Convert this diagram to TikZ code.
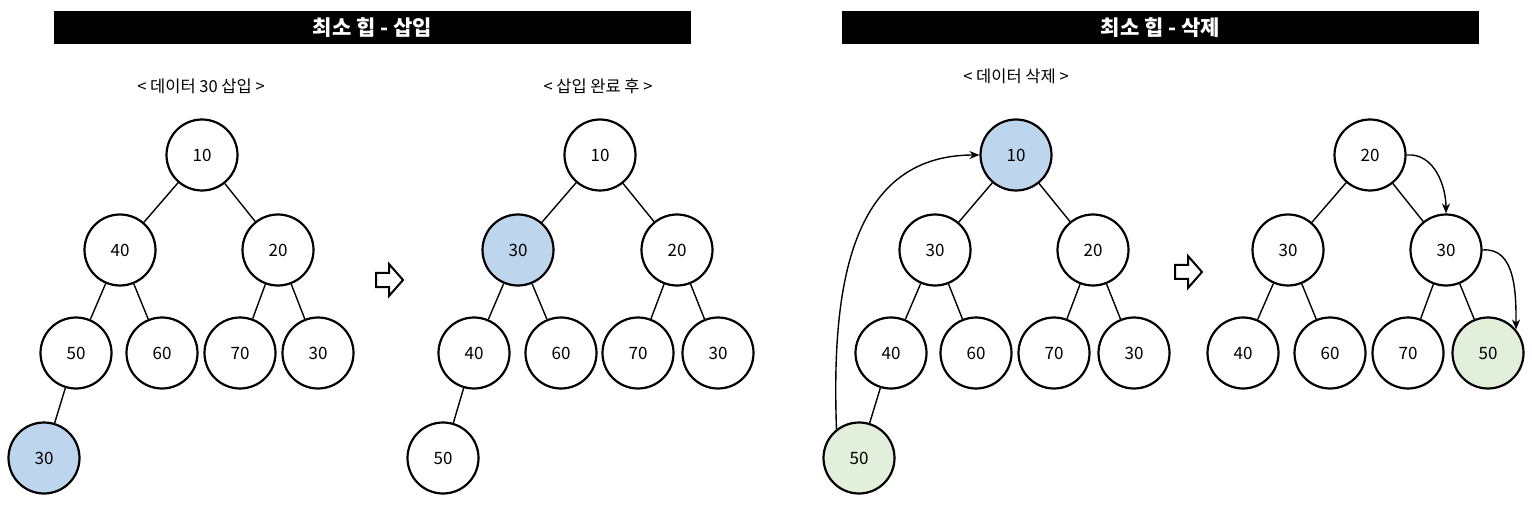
\documentclass[tikz,border=0pt]{standalone}
\usepackage{fontspec}
\setmainfont{Noto Sans CJK KR}
\usetikzlibrary{arrows.meta}
\definecolor{hblue}{RGB}{189,214,238}
\definecolor{hgreen}{RGB}{226,239,218}
\begin{document}
\begin{tikzpicture}[x=1pt,y=-1pt,
  hn/.style={circle,draw,line width=2.2pt,minimum size=71pt,inner sep=0pt,fill=white,font=\fontsize{17}{17}\selectfont},
  hb/.style={hn,fill=hblue},
  hg/.style={hn,fill=hgreen},
  edge/.style={line width=1.4pt},
  bar/.style={fill=black,minimum width=637pt,minimum height=33pt,inner sep=0pt,text=white,font=\fontsize{21}{21}\selectfont\bfseries},
  sub/.style={font=\fontsize{16.5}{17}\selectfont},
  harrow/.style={line width=2pt,line join=miter},
  curv/.style={line width=1.4pt,-{Stealth[length=10pt,width=8pt]}}
]
\useasboundingbox (0,0) rectangle (1532,505);
\fill[white] (0,0) rectangle (1532,505);

% titles
\node[bar] (bar1) at (372.5,27.5) {최소 힙 - 삽입};
\node[bar] (bar2) at (1160.5,27.5) {최소 힙 - 삭제};
\node[sub] (s1) at (201,86) {< 데이터 30 삽입 >};
\node[sub] (s2) at (598,86) {< 삽입 완료 후 >};
\node[sub] (s3) at (1016,76) {< 데이터 삭제 >};

% tree 1
\node[hn] (a1) at (202,155) {10};
\node[hn] (a2) at (120,250) {40};
\node[hn] (a3) at (278,250) {20};
\node[hn] (a4) at (76,353) {50};
\node[hn] (a5) at (162,353) {60};
\node[hn] (a6) at (240,353) {70};
\node[hn] (a7) at (318,353) {30};
\node[hb] (a8) at (44,458) {30};
\draw[edge] (a1) -- (a2); \draw[edge] (a1) -- (a3);
\draw[edge] (a2) -- (a4); \draw[edge] (a2) -- (a5);
\draw[edge] (a3) -- (a6); \draw[edge] (a3) -- (a7);
\draw[edge] (a4) -- (a8);

% tree 2
\node[hn] (b1) at (600,155) {10};
\node[hb] (b2) at (518,250) {30};
\node[hn] (b3) at (677,250) {20};
\node[hn] (b4) at (474,353) {40};
\node[hn] (b5) at (561,353) {60};
\node[hn] (b6) at (638,353) {70};
\node[hn] (b7) at (718,353) {30};
\node[hn] (b8) at (443,458) {50};
\draw[edge] (b1) -- (b2); \draw[edge] (b1) -- (b3);
\draw[edge] (b2) -- (b4); \draw[edge] (b2) -- (b5);
\draw[edge] (b3) -- (b6); \draw[edge] (b3) -- (b7);
\draw[edge] (b4) -- (b8);

% tree 3
\node[hb] (c1) at (1016,155) {10};
\node[hn] (c2) at (935,250) {30};
\node[hn] (c3) at (1093,250) {20};
\node[hn] (c4) at (891,353) {40};
\node[hn] (c5) at (976,353) {60};
\node[hn] (c6) at (1054,353) {70};
\node[hn] (c7) at (1134,353) {30};
\node[hg] (c8) at (859,458) {50};
\draw[edge] (c1) -- (c2); \draw[edge] (c1) -- (c3);
\draw[edge] (c2) -- (c4); \draw[edge] (c2) -- (c5);
\draw[edge] (c3) -- (c6); \draw[edge] (c3) -- (c7);
\draw[edge] (c4) -- (c8);
\draw[curv] (c8.128) to[out=92,in=180,looseness=1.1] (c1.west);

% tree 4
\node[hn] (d1) at (1370,155) {20};
\node[hn] (d2) at (1288,250) {30};
\node[hn] (d3) at (1446,250) {30};
\node[hn] (d4) at (1243,353) {40};
\node[hn] (d5) at (1330,353) {60};
\node[hn] (d6) at (1408,353) {70};
\node[hg] (d7) at (1488,353) {50};
\draw[edge] (d1) -- (d2); \draw[edge] (d1) -- (d3);
\draw[edge] (d2) -- (d4); \draw[edge] (d2) -- (d5);
\draw[edge] (d3) -- (d6); \draw[edge] (d3) -- (d7);
\draw[curv] (d1.east) to[out=5,in=90] (d3.north);
\draw[curv] (d3.east) to[out=5,in=90] (d7.40);

% hollow arrows
\draw[harrow] (376,273) -- (389,273) -- (389,264) -- (403,280) -- (389,296) -- (389,287) -- (376,287) -- cycle;
\draw[harrow] (1175,265) -- (1188,265) -- (1188,256) -- (1202,272) -- (1188,288) -- (1188,279) -- (1175,279) -- cycle;
\end{tikzpicture}
\end{document}
